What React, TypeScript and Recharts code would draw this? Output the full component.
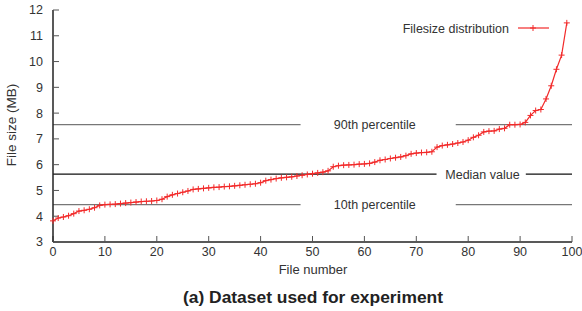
import React from "react";
import { LineChart, Line, XAxis, YAxis, ReferenceLine, Legend } from "recharts";

// File sizes (MB), sorted, one per file number 0..99
const fileSizes = [
  3.82, 3.93, 3.97, 4.02, 4.1, 4.2, 4.23, 4.27, 4.33, 4.42,
  4.45, 4.46, 4.47, 4.49, 4.51, 4.53, 4.55, 4.57, 4.58, 4.59,
  4.61, 4.66, 4.76, 4.83, 4.88, 4.93, 4.98, 5.04, 5.06, 5.08,
  5.1, 5.12, 5.13, 5.15, 5.16, 5.18, 5.2, 5.22, 5.24, 5.26,
  5.3, 5.38, 5.42, 5.46, 5.49, 5.51, 5.53, 5.56, 5.59, 5.62,
  5.65, 5.68, 5.71, 5.76, 5.92, 5.96, 5.98, 5.99, 6.0, 6.02,
  6.03, 6.05, 6.1, 6.17, 6.2, 6.24, 6.27, 6.3, 6.35, 6.42,
  6.45, 6.47, 6.48, 6.5, 6.68, 6.74, 6.77, 6.8, 6.84, 6.88,
  6.95, 7.06, 7.14, 7.27, 7.3, 7.31, 7.38, 7.41, 7.55, 7.55,
  7.56, 7.64, 7.91, 8.1, 8.14, 8.55, 9.06, 9.7, 10.25, 11.5,
];
const xTicks = [0, 10, 20, 30, 40, 50, 60, 70, 80, 90, 100];
const yTicks = [3, 4, 5, 6, 7, 8, 9, 10, 11, 12];
const percentileValues = [4.45, 5.63, 7.55];
const percentileNames = ["10th percentile", "Median value", "90th percentile"];
const seriesName = "Filesize distribution";

const data = fileSizes.map((size, i) => ({ file: i, size }));

const FONT = '"Liberation Sans", Arial, Helvetica, sans-serif';
const RED = "#f22a2a";
const TEXT = "#333";
const FS = 12.5;

// where each percentile line is broken for its label, as fractions of plot width
const gaps = [
  { from: 0.477, to: 0.776, mid: 0.62, stroke: "#777" },
  { from: 0.739, to: 0.911, mid: 0.8275, stroke: "#111" },
  { from: 0.477, to: 0.776, mid: 0.62, stroke: "#777" },
];

function gapLabel(text: string, gap: { from: number; to: number; mid: number }) {
  return (props: any) => {
    const { x, y, width } = props.viewBox;
    const x0 = x + width * gap.from;
    const x1 = x + width * gap.to;
    return (
      <g>
        <rect x={x0} y={y - 2} width={x1 - x0} height={4} fill="#fff" />
        <text x={x + width * gap.mid} y={y} dy="0.36em" textAnchor="middle" fontSize={FS} fill={TEXT}>
          {text}
        </text>
      </g>
    );
  };
}

const plus = (p: any) => (
  <path
    key={`d${p.index}`}
    d={`M${p.cx - 3},${p.cy}h6M${p.cx},${p.cy - 3}v6`}
    stroke={RED}
    strokeWidth={1}
    fill="none"
  />
);

function LegendBox() {
  return (
    <svg width={582} height={18}>
      <text x={509} y={9} dy="0.36em" textAnchor="end" fontSize={FS} fill={TEXT} fontFamily={FONT}>
        {seriesName}
      </text>
      <line x1={518} x2={549} y1={9} y2={9} stroke={RED} strokeWidth={1.2} />
      <path d={`M530,9h6M533,6v6`} stroke={RED} strokeWidth={1} />
    </svg>
  );
}

export default function App() {
  const axisLine = { stroke: "#222", strokeWidth: 1.5 };
  const tickLine = { stroke: "#555" };
  const tick = { fontSize: FS, fill: TEXT };
  return (
    <div
      style={{
        position: "absolute",
        left: 0,
        top: 0,
        width: 582,
        height: 311,
        background: "#fff",
        fontFamily: FONT,
        color: TEXT,
      }}
    >
      <LineChart width={582} height={311} data={data} margin={{ top: 10, right: 10, bottom: 39, left: 0 }}>
        <XAxis
          dataKey="file"
          type="number"
          domain={[0, 100]}
          ticks={xTicks}
          interval={0}
          height={30}
          tickSize={-6}
          tickMargin={11}
          axisLine={axisLine}
          tickLine={tickLine}
          tick={tick}
        />
        <XAxis
          xAxisId="top"
          orientation="top"
          type="number"
          domain={[0, 100]}
          ticks={xTicks}
          interval={0}
          height={0}
          tickSize={-6}
          axisLine={axisLine}
          tickLine={tickLine}
          tick={false}
        />
        <YAxis
          type="number"
          domain={[3, 12]}
          ticks={yTicks}
          interval={0}
          width={53}
          tickSize={-6}
          tickMargin={16}
          axisLine={axisLine}
          tickLine={tickLine}
          tick={tick}
        />
        <YAxis
          yAxisId="right"
          orientation="right"
          type="number"
          domain={[3, 12]}
          ticks={yTicks}
          interval={0}
          width={0}
          tickSize={-6}
          axisLine={axisLine}
          tickLine={tickLine}
          tick={false}
        />
        {percentileValues.map((v, i) => (
          <ReferenceLine
            key={percentileNames[i]}
            y={v}
            stroke={gaps[i].stroke}
            strokeWidth={1.2}
            label={gapLabel(percentileNames[i], gaps[i])}
          />
        ))}
        <Legend
          layout="vertical"
          verticalAlign="middle"
          align="center"
          wrapperStyle={{ top: 19, left: 0, width: 582, height: 18 }}
          content={() => <LegendBox />}
        />
        <Line
          dataKey="size"
          name={seriesName}
          stroke={RED}
          strokeWidth={1.2}
          dot={plus}
          activeDot={false}
          isAnimationActive={false}
        />
      </LineChart>
      <div
        style={{
          position: "absolute",
          left: 12 - 60,
          top: 125 - 9,
          width: 120,
          height: 18,
          lineHeight: "18px",
          textAlign: "center",
          fontSize: 13.5,
          transform: "rotate(-90deg)",
        }}
      >
        File size (MB)
      </div>
      <div
        style={{
          position: "absolute",
          left: 213,
          top: 262,
          width: 200,
          lineHeight: "16px",
          textAlign: "center",
          fontSize: 13,
        }}
      >
        File number
      </div>
      <div
        style={{
          position: "absolute",
          left: 113,
          top: 287,
          width: 400,
          lineHeight: "20px",
          textAlign: "center",
          fontSize: 17.4,
          fontWeight: "bold",
          color: "#222",
        }}
      >
        (a) Dataset used for experiment
      </div>
    </div>
  );
}
